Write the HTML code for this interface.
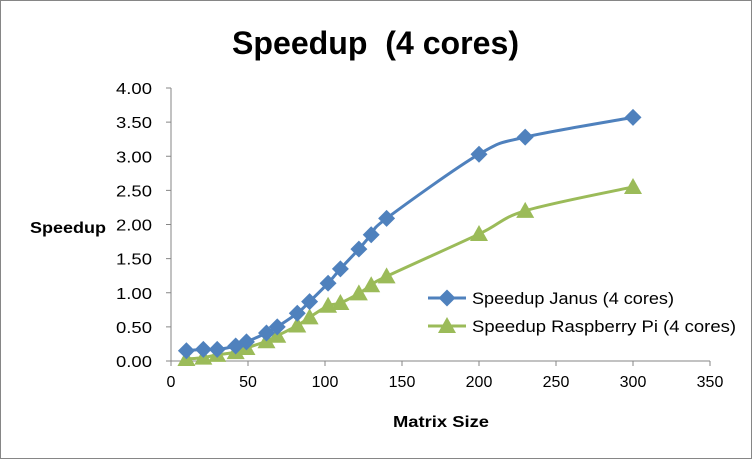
<!DOCTYPE html>
<html><head><meta charset="utf-8"><style>
body{margin:0;background:#fff}
svg text{font-family:"Liberation Sans",Arial,sans-serif}
</style></head><body>
<svg id="c" width="752" height="459">
<rect x="0.5" y="0.5" width="751" height="458" fill="#fff" stroke="#868686"/>
<text x="232" y="54" font-size="32" font-weight="bold" textLength="287" lengthAdjust="spacingAndGlyphs" xml:space="preserve">Speedup  (4 cores)</text>
<text x="30" y="233" font-size="16" font-weight="bold" textLength="76" lengthAdjust="spacingAndGlyphs">Speedup</text>
<text x="393" y="427" font-size="16" font-weight="bold" textLength="96" lengthAdjust="spacingAndGlyphs">Matrix Size</text>
<g id="axes"></g><g id="series"></g>
<g>
<line x1="428" y1="298" x2="466" y2="298" stroke="#4f81bd" stroke-width="3"/>
<rect x="441" y="292" width="12" height="12" fill="#4f81bd" transform="rotate(45 447 298)"/>
<text x="472" y="304" font-size="17" textLength="202" lengthAdjust="spacingAndGlyphs">Speedup Janus (4 cores)</text>
<line x1="428" y1="326" x2="466" y2="326" stroke="#9bbb59" stroke-width="3"/>
<polygon points="447,317 456,333 438,333" fill="#9bbb59"/>
<text x="472" y="332" font-size="17" textLength="264" lengthAdjust="spacingAndGlyphs">Speedup Raspberry Pi (4 cores)</text>
</g>
</svg>
<script>
const xValues=[10,21,30,42,49,62,69,82,90,102,110,122,130,140,200,230,300];
const janus=[0.15,0.17,0.17,0.22,0.28,0.41,0.50,0.70,0.87,1.14,1.35,1.64,1.85,2.09,3.03,3.28,3.57];
const pi=[0.03,0.05,0.09,0.13,0.19,0.29,0.37,0.52,0.64,0.81,0.85,0.99,1.11,1.24,1.86,2.20,2.55];
const xTicks=[0,50,100,150,200,250,300,350];
const yTicks=[0,0.5,1,1.5,2,2.5,3,3.5,4];
const NS="http://www.w3.org/2000/svg";
const X=v=>171+v*(539/350), Y=v=>361-v*68.25;
function mk(t,a,p){const e=document.createElementNS(NS,t);for(const k in a)e.setAttribute(k,a[k]);p.appendChild(e);return e;}
const ax=document.getElementById('axes');
let l=mk('line',{x1:X(0),y1:Y(0),x2:X(350),y2:Y(0),stroke:'#868686'},ax);


l=mk('line',{x1:X(0),y1:Y(0),x2:X(0),y2:Y(4),stroke:'#868686'},ax);


xTicks.forEach(v=>{
 const t=mk('line',{x1:X(v),y1:Y(0),x2:X(v),y2:Y(0)+5,stroke:'#868686'},ax);
 
 
 const s=mk('text',{x:X(v),y:387,'font-size':16,'text-anchor':'middle'},ax);s.textContent=v;
 
 
});
yTicks.forEach(v=>{
 const t=mk('line',{x1:X(0)-5,y1:Y(v),x2:X(0),y2:Y(v),stroke:'#868686'},ax);
 
 
 const s=mk('text',{x:116,y:Y(v)+6,'font-size':16,textLength:36,lengthAdjust:'spacingAndGlyphs'},ax);s.textContent=v.toFixed(2);
 
 
});
function path(ys){
 const p=xValues.map((x,i)=>[X(x),Y(ys[i])]);let d='M'+p[0];
 for(let i=0;i<p.length-1;i++){
  const p0=p[Math.max(i-1,0)],p1=p[i],p2=p[i+1],p3=p[Math.min(i+2,p.length-1)],k=1/6;
  d+=` C${p1[0]+(p2[0]-p0[0])*k},${p1[1]+(p2[1]-p0[1])*k} ${p2[0]-(p3[0]-p1[0])*k},${p2[1]-(p3[1]-p1[1])*k} ${p2[0]},${p2[1]}`;
 }return d;}
const sg=document.getElementById('series');
const lp=mk('path',{d:path(pi),fill:'none',stroke:'#9bbb59','stroke-width':3},sg);


const lj=mk('path',{d:path(janus),fill:'none',stroke:'#4f81bd','stroke-width':3},sg);


xValues.forEach((x,i)=>{
 const cx=X(x),cy=Y(pi[i]);
 const m=mk('polygon',{points:`${cx},${cy-9} ${cx+9},${cy+7} ${cx-9},${cy+7}`,fill:'#9bbb59'},sg);
 
 
});
xValues.forEach((x,i)=>{
 const cx=X(x),cy=Y(janus[i]);
 const m=mk('rect',{x:cx-6,y:cy-6,width:12,height:12,fill:'#4f81bd',transform:`rotate(45 ${cx} ${cy})`},sg);
 
 
});
</script>
</body></html>
